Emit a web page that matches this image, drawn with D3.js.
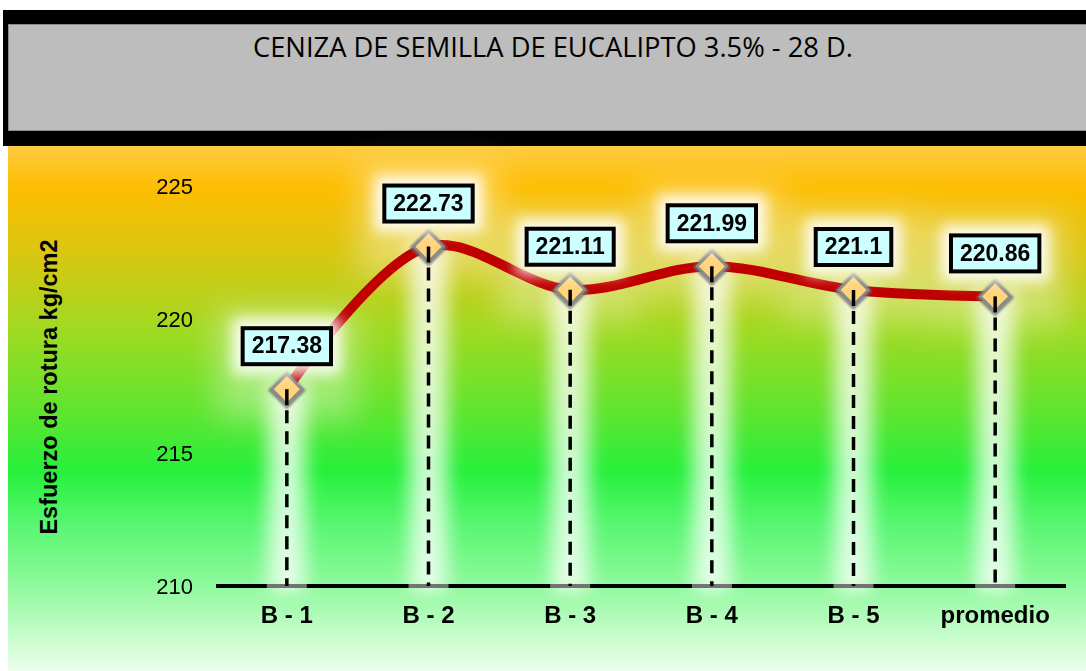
<!DOCTYPE html>
<html>
<head>
<meta charset="utf-8">
<script src="https://cdn.jsdelivr.net/npm/d3@7"></script>
<style>
    body { margin: 0; background: #ffffff; }
    svg { display: block; }
</style>
</head>
<body>
<svg id="vis_svg" width="1086" height="671"></svg>
<script>
// chart data
let categories = ['B - 1', 'B - 2', 'B - 3', 'B - 4', 'B - 5', 'promedio'];
let values = [217.38, 222.73, 221.11, 221.99, 221.1, 220.86];
let yTicks = [210, 215, 220, 225];
let titleText = 'CENIZA DE SEMILLA DE EUCALIPTO 3.5% - 28 D.';
let yTitle = 'Esfuerzo de rotura kg/cm2';

let svg;
let x;
let y;

/**
 * Set things up and draw
 */
function prepVis() {
    svg = d3.select('svg#vis_svg');

    x = d3.scaleBand()
        .domain(categories)
        .range([216, 1066]);

    y = d3.scaleLinear()
        .domain([210, 225])
        .range([586, 186]);

    makeDefs();
    drawBackground();
    drawTitle();
    drawVis();
}

/**
 * gradients and blur filters
 */
function makeDefs() {
    let defs = svg.append('defs');

    let grad = defs.append('linearGradient')
        .attr('id', 'bg')
        .attr('x1', 0).attr('y1', 0)
        .attr('x2', 0).attr('y2', 1);
    let stops = [
        [0, '#fdcc40'], [0.08, '#fdbd00'], [0.22, '#d4c812'], [0.35, '#a0da22'],
        [0.5, '#62e42e'], [0.62, '#26f03c'], [0.72, '#58f670'], [0.83, '#8cf99a'],
        [1, '#ecfeec']
    ];
    grad.selectAll('stop')
        .data(stops)
        .enter()
        .append('stop')
        .attr('offset', d => d[0])
        .attr('stop-color', d => d[1]);

    defs.append('filter')
        .attr('id', 'glow')
        .attr('x', '-50%').attr('y', '-50%')
        .attr('width', '200%').attr('height', '200%')
        .append('feGaussianBlur')
        .attr('stdDeviation', 7);

    defs.append('filter')
        .attr('id', 'wide')
        .attr('x', '-50%').attr('y', '-50%')
        .attr('width', '200%').attr('height', '200%')
        .append('feGaussianBlur')
        .attr('stdDeviation', 16);

    defs.append('filter')
        .attr('id', 'soft')
        .attr('x', '-50%').attr('y', '-50%')
        .attr('width', '200%').attr('height', '200%')
        .append('feGaussianBlur')
        .attr('stdDeviation', 1.2);
}

function drawBackground() {
    svg.append('rect')
        .attr('x', 8)
        .attr('y', 146)
        .attr('width', 1078)
        .attr('height', 525)
        .style('fill', 'url(#bg)');
}

function drawTitle() {
    svg.append('rect')
        .attr('x', 3)
        .attr('y', 10)
        .attr('width', 1083)
        .attr('height', 136)
        .style('fill', '#000');

    svg.append('rect')
        .attr('x', 8.5)
        .attr('y', 24.5)
        .attr('width', 1080)
        .attr('height', 106)
        .style('fill', '#bdbdbd')
        .style('stroke', '#8a8a8a')
        .style('stroke-width', 1);

    svg.append('text')
        .text(titleText)
        .attr('x', 553)
        .attr('y', 57)
        .attr('text-anchor', 'middle')
        .attr('textLength', 600)
        .attr('lengthAdjust', 'spacingAndGlyphs')
        .style('font-family', '"Open Sans", sans-serif')
        .style('font-size', '27px')
        .style('fill', '#000');
}

/**
 * Draw axes, line, markers and labels
 */
function drawVis() {
    let plot = svg.append('g').attr('id', 'plot');
    let cx = d => x(d.cat) + x.bandwidth() / 2;
    let points = categories.map((c, i) => ({cat: c, value: values[i]}));

    // wide soft glow round the labels
    let wide = plot.append('g').attr('filter', 'url(#wide)');
    wide.selectAll('rect')
        .data(points)
        .enter()
        .append('rect')
        .attr('x', d => cx(d) - 70)
        .attr('y', d => y(d.value) - 80)
        .attr('width', 140)
        .attr('height', 110)
        .style('fill', '#fff')
        .style('opacity', 0.35);

    // white glow round the drop lines
    let glow = plot.append('g').attr('filter', 'url(#glow)');
    glow.selectAll('rect.col')
        .data(points)
        .enter()
        .append('rect')
        .attr('class', 'col')
        .attr('x', d => cx(d) - 24)
        .attr('y', d => y(d.value) - 10)
        .attr('width', 48)
        .attr('height', d => y(210) - y(d.value) + 14)
        .style('fill', '#fff')
        .style('opacity', 0.4);
    glow.selectAll('rect.inner')
        .data(points)
        .enter()
        .append('rect')
        .attr('class', 'inner')
        .attr('x', d => cx(d) - 12)
        .attr('y', d => y(d.value))
        .attr('width', 24)
        .attr('height', d => y(210) - y(d.value) + 6)
        .style('fill', '#fff')
        .style('opacity', 0.6);

    // y tick labels
    plot.append('g')
        .selectAll('text')
        .data(yTicks)
        .enter()
        .append('text')
        .text(d => d)
        .attr('x', 193)
        .attr('y', d => y(d))
        .attr('dy', '0.36em')
        .attr('text-anchor', 'end')
        .style('font-family', '"Liberation Sans", Arial, sans-serif')
        .style('font-size', '22px')
        .style('fill', '#000');

    // y axis title
    plot.append('text')
        .text(yTitle)
        .attr('transform', 'translate(57,387) rotate(-90)')
        .attr('text-anchor', 'middle')
        .style('font-family', '"Liberation Sans", Arial, sans-serif')
        .style('font-weight', 'bold')
        .style('font-size', '23.5px')
        .style('fill', '#000');

    // x axis line
    plot.append('line')
        .attr('x1', x.range()[0])
        .attr('x2', x.range()[1])
        .attr('y1', y(210))
        .attr('y2', y(210))
        .style('stroke', '#000')
        .style('stroke-width', 4);

    // category labels
    plot.append('g')
        .selectAll('text')
        .data(categories)
        .enter()
        .append('text')
        .text(d => d)
        .attr('x', d => x(d) + x.bandwidth() / 2)
        .attr('y', 623)
        .attr('text-anchor', 'middle')
        .style('font-family', '"Liberation Sans", Arial, sans-serif')
        .style('font-weight', 'bold')
        .style('font-size', '24px')
        .style('white-space', 'pre')
        .style('fill', '#000');

    // glow columns lie over the axis a little
    plot.append('g')
        .selectAll('rect')
        .data(points)
        .enter()
        .append('rect')
        .attr('x', d => cx(d) - 20)
        .attr('y', y(210) - 2)
        .attr('width', 40)
        .attr('height', 4)
        .style('fill', '#fff')
        .style('opacity', 0.45);

    // smoothed line
    let line = d3.line()
        .curve(d3.curveCatmullRom.alpha(0.5))
        .x(cx)
        .y(d => y(d.value));

    plot.append('path')
        .datum(points)
        .attr('d', line)
        .style('fill', 'none')
        .style('stroke', '#c00000')
        .style('stroke-width', 10)
        .style('stroke-linejoin', 'round');

    // dashed drop lines
    plot.append('g')
        .selectAll('line')
        .data(points)
        .enter()
        .append('line')
        .attr('x1', cx)
        .attr('x2', cx)
        .attr('y1', d => y(d.value))
        .attr('y2', y(210))
        .style('stroke', '#000')
        .style('stroke-width', 3.5)
        .style('stroke-dasharray', '13,8');

    // diamond markers
    let diamond = d3.symbol().type(d3.symbolDiamond2).size(560);
    let markers = plot.append('g');
    markers.selectAll('path.shadow')
        .data(points)
        .enter()
        .append('path')
        .attr('class', 'shadow')
        .attr('d', diamond)
        .attr('transform', d => 'translate(' + cx(d) + ',' + (y(d.value) + 1) + ')')
        .attr('filter', 'url(#soft)')
        .style('fill', 'none')
        .style('stroke', '#6f6f6f')
        .style('stroke-width', 6)
        .style('opacity', 0.8);
    markers.selectAll('path.mk')
        .data(points)
        .enter()
        .append('path')
        .attr('class', 'mk')
        .attr('d', diamond)
        .attr('transform', d => 'translate(' + cx(d) + ',' + y(d.value) + ')')
        .style('fill', '#ffd47a')
        .style('stroke', '#8a8a8a')
        .style('stroke-width', 2.5);
    // the drop line shows through the marker centre
    markers.selectAll('line')
        .data(points)
        .enter()
        .append('line')
        .attr('x1', cx)
        .attr('x2', cx)
        .attr('y1', d => y(d.value))
        .attr('y2', d => y(d.value) + 16)
        .style('stroke', '#000')
        .style('stroke-width', 3.5);

    drawLabels(plot, points, cx);
}

/**
 * boxed value labels above each point
 */
function drawLabels(plot, points, cx) {
    let labelGlow = plot.append('g').attr('filter', 'url(#glow)');
    let labels = plot.append('g');

    points.forEach(function(d) {
        let g = labels.append('g');
        let t = g.append('text')
            .text(d.value)
            .attr('x', cx(d))
            .attr('y', y(d.value) - 44)
            .attr('dy', '0.36em')
            .attr('text-anchor', 'middle')
            .style('font-family', '"Liberation Sans", Arial, sans-serif')
            .style('font-weight', 'bold')
            .style('font-size', '23px')
            .style('fill', '#000');

        let w = t.node().getComputedTextLength() + 18;
        let h = 36;
        let bx = cx(d) - w / 2;
        let by = y(d.value) - 25 - h;

        labelGlow.append('rect')
            .attr('x', bx - 10)
            .attr('y', by - 10)
            .attr('width', w + 20)
            .attr('height', h + 20)
            .style('fill', '#fff')
            .style('opacity', 0.9);

        g.insert('rect', 'text')
            .attr('x', bx)
            .attr('y', by)
            .attr('width', w)
            .attr('height', h)
            .style('fill', '#ccffff')
            .style('stroke', '#000')
            .style('stroke-width', 4);
    });
}

prepVis();
</script>
</body>
</html>
